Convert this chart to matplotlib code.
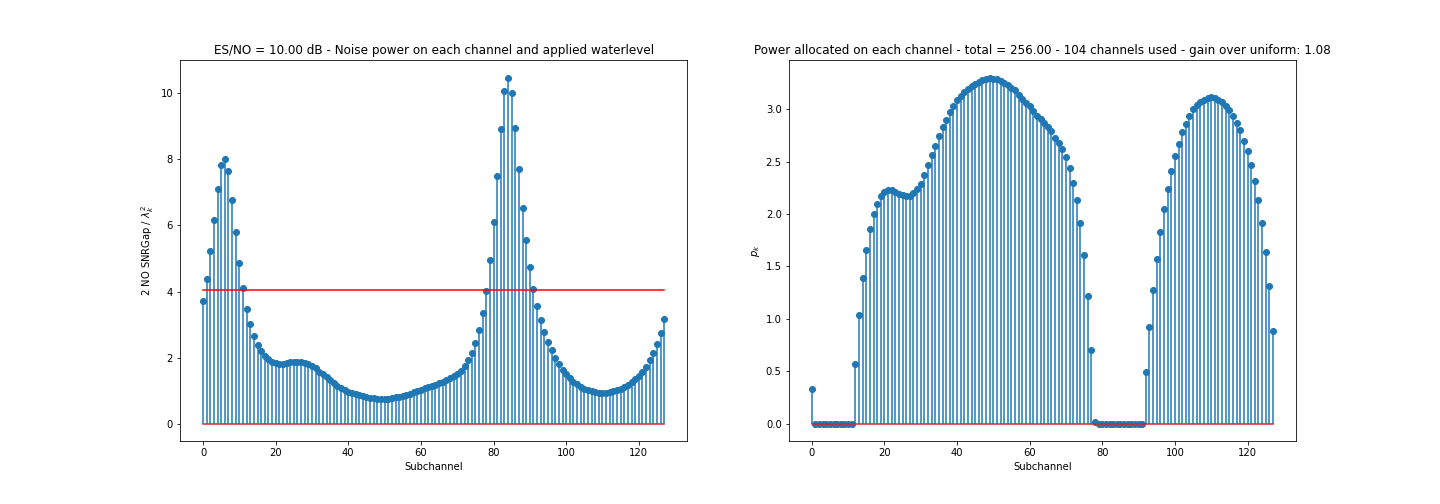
import matplotlib
matplotlib.use('Agg')
import matplotlib.pyplot as plt
import numpy as np

# subchannel index 0..127
subchannel = np.arange(128)

# noise power on each channel (2 N0 SNRGap / lambda_k^2)
noise = [3.72, 4.38, 5.23, 6.17, 7.11, 7.82, 8.02, 7.64, 6.78, 5.81,
         4.87, 4.12, 3.48, 3.01, 2.66, 2.39, 2.19, 2.05, 1.95, 1.88,
         1.84, 1.82, 1.82, 1.84, 1.86, 1.87, 1.88, 1.88, 1.85, 1.81,
         1.76, 1.68, 1.58, 1.49, 1.40, 1.31, 1.22, 1.15, 1.08, 1.02,
         0.96, 0.92, 0.89, 0.86, 0.83, 0.81, 0.79, 0.77, 0.76, 0.75,
         0.76, 0.76, 0.78, 0.80, 0.82, 0.85, 0.87, 0.91, 0.95, 0.99,
         1.02, 1.07, 1.11, 1.14, 1.18, 1.22, 1.26, 1.32, 1.37, 1.43,
         1.51, 1.61, 1.75, 1.92, 2.14, 2.44, 2.83, 3.35, 4.03, 4.96,
         6.11, 7.50, 8.93, 10.08, 10.47, 10.02, 8.96, 7.72, 6.54, 5.57,
         4.75, 4.08, 3.56, 3.13, 2.77, 2.48, 2.22, 2.00, 1.81, 1.64,
         1.50, 1.38, 1.27, 1.19, 1.11, 1.05, 1.01, 0.98, 0.96, 0.94,
         0.93, 0.94, 0.96, 0.98, 1.02, 1.06, 1.11, 1.18, 1.25, 1.35,
         1.45, 1.58, 1.73, 1.92, 2.14, 2.41, 2.74, 3.17]

# power allocated on each channel
power = [0.33, 0.0, 0.0, 0.0, 0.0, 0.0, 0.0, 0.0, 0.0, 0.0,
         0.0, 0.0, 0.57, 1.04, 1.39, 1.66, 1.86, 2.00, 2.10, 2.17,
         2.21, 2.23, 2.23, 2.21, 2.19, 2.18, 2.17, 2.17, 2.20, 2.24,
         2.29, 2.37, 2.47, 2.56, 2.65, 2.74, 2.83, 2.90, 2.97, 3.03,
         3.09, 3.13, 3.16, 3.19, 3.22, 3.24, 3.26, 3.28, 3.29, 3.30,
         3.29, 3.29, 3.27, 3.25, 3.23, 3.20, 3.18, 3.14, 3.10, 3.06,
         3.03, 2.98, 2.94, 2.91, 2.87, 2.83, 2.79, 2.73, 2.68, 2.62,
         2.54, 2.44, 2.30, 2.13, 1.91, 1.61, 1.22, 0.70, 0.02, 0.0,
         0.0, 0.0, 0.0, 0.0, 0.0, 0.0, 0.0, 0.0, 0.0, 0.0,
         0.0, 0.0, 0.49, 0.92, 1.28, 1.57, 1.83, 2.05, 2.24, 2.41,
         2.55, 2.67, 2.78, 2.86, 2.94, 3.00, 3.04, 3.07, 3.09, 3.11,
         3.12, 3.11, 3.09, 3.07, 3.03, 2.99, 2.94, 2.87, 2.80, 2.70,
         2.60, 2.47, 2.32, 2.13, 1.91, 1.64, 1.31, 0.88]

waterlevel = 4.05

fig = plt.figure(figsize=(20, 7), dpi=72)
plt.subplots_adjust(left=0.125, right=0.9, bottom=0.125, top=0.88, wspace=0.2)

ax1 = fig.add_subplot(121)
ax1.stem(subchannel, noise)
ax1.plot([subchannel[0], subchannel[-1]], [waterlevel, waterlevel], 'r')
ax1.set_title('ES/NO = 10.00 dB - Noise power on each channel and applied waterlevel')
ax1.set_xlabel('Subchannel')
ax1.set_ylabel('2 NO SNRGap / $\\lambda_k^2$')

ax2 = fig.add_subplot(122)
ax2.stem(subchannel, power)
ax2.set_title('Power allocated on each channel - total = 256.00 - 104 channels used - gain over uniform: 1.08')
ax2.set_xlabel('Subchannel')
ax2.set_ylabel('$p_k$')

fig.savefig('out.png', dpi=72)
